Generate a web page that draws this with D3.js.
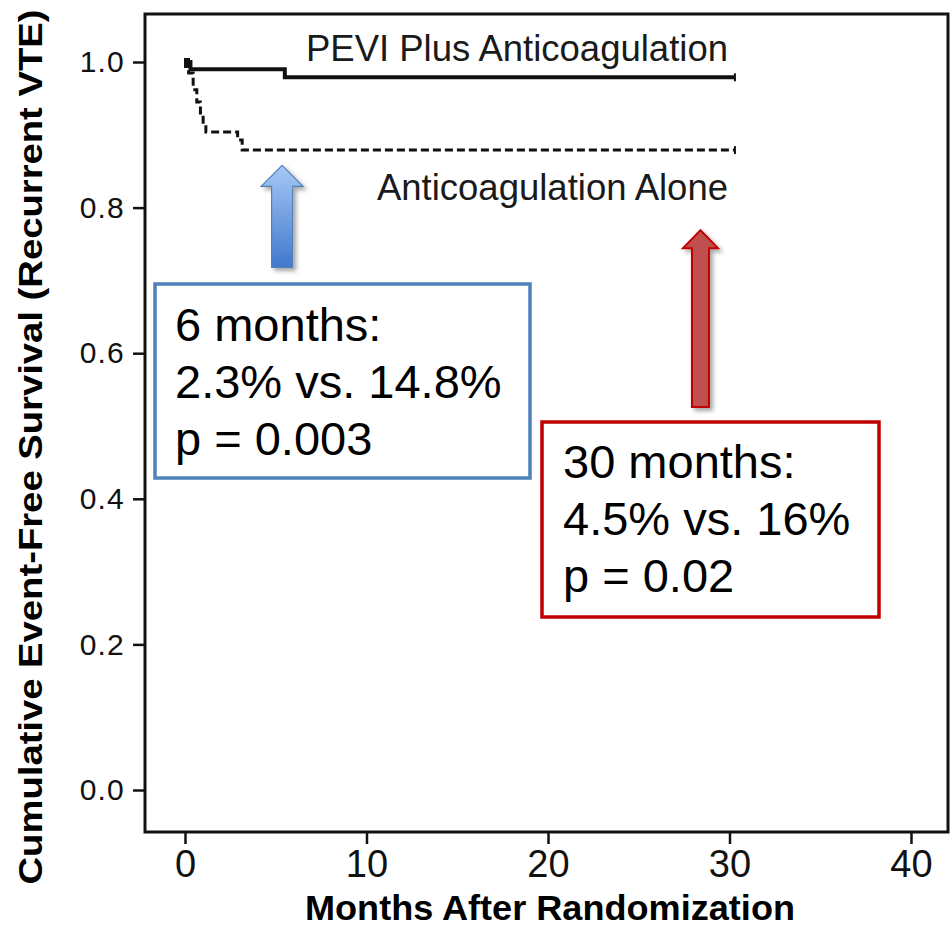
<!DOCTYPE html>
<html>
<head>
<meta charset="utf-8">
<script src="https://cdn.jsdelivr.net/npm/d3@7"></script>
<style>
  body { margin: 0; background: #fff; }
  svg { display: block; }
</style>
</head>
<body>
<div id="chart"></div>
<script>
// Kaplan-Meier steps (months, survival)
const pevTimes = [0, 0.3, 5.5, 30.3];
const pevSurv  = [1.0, 0.990, 0.979, 0.979];
const acTimes  = [0, 0.2, 0.45, 0.65, 0.85, 1.0, 1.15, 2.9, 3.15, 30.3];
const acSurv   = [1.0, 0.985, 0.962, 0.945, 0.93, 0.915, 0.904, 0.893, 0.879, 0.879];

const xTicks = [0, 10, 20, 30, 40];
const yTicks = [0, 0.2, 0.4, 0.6, 0.8, 1.0];

const seriesLabels = ["PEVI Plus Anticoagulation", "Anticoagulation Alone"];
const blueLines = ["6 months:", "2.3% vs. 14.8%", "p = 0.003"];
const redLines  = ["30 months:", "4.5% vs. 16%", "p = 0.02"];

const width = 952, height = 930;
const frame = {left: 145, top: 14, right: 948, bottom: 832};

const x = d3.scaleLinear().domain([0, 40]).range([185, 911]);
const y = d3.scaleLinear().domain([0, 1]).range([790, 62]);

const svg = d3.select("#chart").append("svg")
    .attr("width", width)
    .attr("height", height)
    .attr("font-family", "'Liberation Sans', Arial, sans-serif");

const defs = svg.append("defs");
const grad = defs.append("linearGradient")
    .attr("id", "blueGrad").attr("x1", 0).attr("y1", 0).attr("x2", 0).attr("y2", 1);
grad.append("stop").attr("offset", "0%").attr("stop-color", "#a7c8f6");
grad.append("stop").attr("offset", "100%").attr("stop-color", "#4178cc");
defs.append("filter").attr("id", "shadow")
    .attr("x", "-50%").attr("y", "-20%").attr("width", "200%").attr("height", "140%")
  .append("feDropShadow")
    .attr("dx", 3).attr("dy", 3).attr("stdDeviation", 2)
    .attr("flood-color", "#000").attr("flood-opacity", 0.35);

// plot frame
svg.append("rect")
    .attr("x", frame.left).attr("y", frame.top)
    .attr("width", frame.right - frame.left)
    .attr("height", frame.bottom - frame.top)
    .attr("fill", "none").attr("stroke", "#111").attr("stroke-width", 3);

// axes
const xAxis = svg.append("g")
    .attr("transform", `translate(0,${frame.bottom})`)
    .call(d3.axisBottom(x).tickValues(xTicks).tickSize(12).tickPadding(6).tickFormat(d3.format("d")));
xAxis.select(".domain").remove();
xAxis.selectAll("line").attr("stroke", "#111").attr("stroke-width", 2.5);
xAxis.selectAll("text")
    .attr("font-size", 38).attr("fill", "#111")
    .attr("font-family", "'Liberation Sans', Arial, sans-serif");

const yAxis = svg.append("g")
    .attr("transform", `translate(${frame.left},0)`)
    .call(d3.axisLeft(y).tickValues(yTicks).tickSize(12).tickPadding(8).tickFormat(d3.format(".1f")));
yAxis.select(".domain").remove();
yAxis.selectAll("line").attr("stroke", "#111").attr("stroke-width", 2.5);
yAxis.selectAll("text")
    .attr("font-size", 30).attr("fill", "#111")
    .attr("letter-spacing", 1.2);

// axis titles
svg.append("text")
    .attr("x", 550).attr("y", 920)
    .attr("text-anchor", "middle")
    .attr("font-family", "'Liberation Sans Narrow', 'Liberation Sans', Arial, sans-serif")
    .attr("font-weight", "bold").attr("font-size", 35)
    .attr("textLength", 490).attr("lengthAdjust", "spacingAndGlyphs")
    .text("Months After Randomization");

svg.append("text")
    .attr("transform", "translate(42,447) rotate(-90)")
    .attr("text-anchor", "middle")
    .attr("font-family", "'Liberation Sans Narrow', 'Liberation Sans', Arial, sans-serif")
    .attr("font-weight", "bold").attr("font-size", 34)
    .attr("textLength", 875).attr("lengthAdjust", "spacingAndGlyphs")
    .text("Cumulative Event-Free Survival (Recurrent VTE)");

// survival curves
const step = d3.line()
    .x(d => x(d[0]))
    .y(d => y(d[1]))
    .curve(d3.curveStepAfter);

const pev = d3.zip(pevTimes, pevSurv);
const ac = d3.zip(acTimes, acSurv);

svg.append("path")
    .attr("d", step(ac))
    .attr("fill", "none").attr("stroke", "#111")
    .attr("stroke-width", 3).attr("stroke-dasharray", "8,4");

svg.append("path")
    .attr("d", step(pev))
    .attr("fill", "none").attr("stroke", "#111")
    .attr("stroke-width", 4);

// start blob and censor ticks at the end
svg.append("rect")
    .attr("x", x(0) - 1).attr("y", y(1) - 4)
    .attr("width", 6).attr("height", 10).attr("fill", "#111");
[pev, ac].forEach(s => {
  const last = s[s.length - 1];
  svg.append("line")
      .attr("x1", x(last[0])).attr("x2", x(last[0]))
      .attr("y1", y(last[1]) - 4).attr("y2", y(last[1]) + 4)
      .attr("stroke", "#111").attr("stroke-width", 2);
});

// series labels
svg.append("text")
    .attr("x", 728).attr("y", 61)
    .attr("text-anchor", "end").attr("font-size", 36.5).attr("fill", "#1a1a1a")
    .text(seriesLabels[0]);
svg.append("text")
    .attr("x", 728).attr("y", 200)
    .attr("text-anchor", "end").attr("font-size", 36.5).attr("fill", "#1a1a1a")
    .text(seriesLabels[1]);

// arrows
function arrowPath(cx, tip, base, headW, headH, shaftW) {
  return `M${cx},${tip} L${cx + headW / 2},${tip + headH} L${cx + shaftW / 2},${tip + headH}
          L${cx + shaftW / 2},${base} L${cx - shaftW / 2},${base} L${cx - shaftW / 2},${tip + headH}
          L${cx - headW / 2},${tip + headH} Z`;
}

svg.append("path")
    .attr("d", arrowPath(x(5.35), y(0.858), y(0.718), 42, 21, 21))
    .attr("fill", "url(#blueGrad)").attr("stroke", "#4f81bd").attr("stroke-width", 1.2)
    .attr("filter", "url(#shadow)");

svg.append("path")
    .attr("d", arrowPath(x(28.4), y(0.769), y(0.526), 35, 18, 17))
    .attr("fill", "#c0504d").attr("stroke", "#c00000").attr("stroke-width", 2)
    .attr("filter", "url(#shadow)");

// annotation boxes
function noteBox(bx, by, bw, bh, color, lines, tx, ty0) {
  svg.append("rect")
      .attr("x", bx).attr("y", by).attr("width", bw).attr("height", bh)
      .attr("fill", "#fff").attr("stroke", color).attr("stroke-width", 3.5);
  svg.append("text")
      .attr("font-size", 47).attr("fill", "#000")
    .selectAll("tspan")
    .data(lines)
    .join("tspan")
      .attr("x", tx)
      .attr("y", (d, i) => ty0 + i * 57)
      .text(d => d);
}

noteBox(155, 284, 375, 194, "#4f81bd", blueLines, 175, 341);
noteBox(542, 422, 337, 195, "#c00000", redLines, 563, 478);
</script>
</body>
</html>
